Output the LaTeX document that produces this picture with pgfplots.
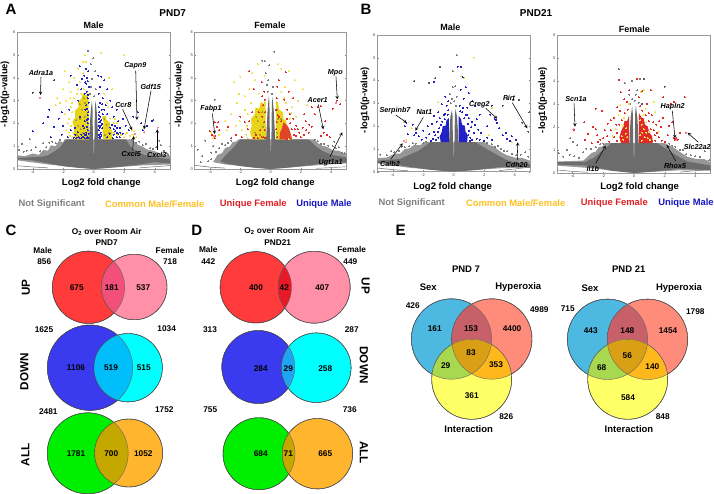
\documentclass[border=0pt]{standalone}
\usepackage{pgfplots}
\pgfplotsset{compat=1.18}
\usepackage{fontspec}
\setmainfont{Liberation Sans}
\definecolor{gmass}{HTML}{6C6C6C}
\definecolor{ghalo}{HTML}{979797}
\definecolor{gsp}{HTML}{7C7C7C}
\definecolor{yel}{HTML}{F0E040}
\definecolor{yeld}{HTML}{E8D418}
\definecolor{oli}{HTML}{A89C30}
\definecolor{blu}{HTML}{2222C4}
\definecolor{redd}{HTML}{E02A2A}
\definecolor{lgnd1}{HTML}{808080}
\definecolor{lgnd2}{HTML}{FFC022}
\definecolor{lgnd3}{HTML}{E01F24}
\definecolor{lgnd4}{HTML}{1818BE}
\definecolor{vred}{HTML}{FF3B3B}
\definecolor{vpink}{HTML}{FF90A8}
\definecolor{vrp}{HTML}{F2507A}
\definecolor{vrpd}{HTML}{E81828}
\definecolor{vblue}{HTML}{3A3AEE}
\definecolor{vcyan}{HTML}{00FFFF}
\definecolor{vbc}{HTML}{00BEFA}
\definecolor{vbcd}{HTML}{1EA4F0}
\definecolor{vgreen}{HTML}{00EE00}
\definecolor{vorange}{HTML}{FFB52E}
\definecolor{vgo}{HTML}{C4A800}
\definecolor{vsex}{HTML}{4DB8E0}
\definecolor{vhyp}{HTML}{FF8C7A}
\definecolor{vint}{HTML}{FFFF66}
\definecolor{vsh}{HTML}{C8606A}
\definecolor{vsi}{HTML}{A8D84F}
\definecolor{vhi}{HTML}{FFB81C}
\definecolor{vshi}{HTML}{D9A015}
\definecolor{pk}{HTML}{F08CB0}
\pgfplotsset{
  pdot/.style={only marks,mark=*,mark size=0.5pt,color=#1,mark options={draw=#1,fill=#1,line width=0pt}},
  mass/.style={fill=#1,draw=none,forget plot},
  volc/.style={scale only axis,xmin=-5,xmax=5,ymin=0,ymax=6,
    xtick={-4,-2,0,2,4},ytick={0,1,2,3,4,5,6},
    tick label style={font=\fontsize{4}{4}\selectfont\color{black!75}},
    xticklabel style={yshift=1.5pt},yticklabel style={xshift=1.5pt},
    axis line style={draw=black!40,line width=0.8pt},
    tick style={draw=black!50,line width=0.3pt},major tick length=1.2pt,
    clip=true,anchor=south west,
    /pgf/number format/assume math mode=true},
  overl/.style={at={(0pt,0pt)},anchor=south west,scale only axis,width=714pt,height=494pt,
  xmin=0,xmax=714,ymin=0,ymax=494,y dir=reverse,hide axis,clip=false},
}
\newcommand{\lab}[4][8.3]{\node[font=\fontsize{#1}{#1}\selectfont\bfseries,inner sep=0pt] at (axis cs:#2,#3) {#4};}
\newcommand{\clab}[5][9.4]{\node[text=#5,font=\fontsize{#1}{#1}\selectfont\bfseries,inner sep=0pt] at (axis cs:#2,#3) {#4};}
\newcommand{\rlab}[5][9.3]{\node[rotate=#5,font=\fontsize{#1}{#1}\selectfont\bfseries,inner sep=0pt] at (axis cs:#2,#3) {#4};}
\newcommand{\gene}[7]{\node[font=\fontsize{7.2}{7.2}\selectfont\bfseries\itshape,inner sep=0pt] at (axis cs:#1,#2) {#3};
  \draw[-stealth,line width=0.55pt] (axis cs:#4,#5) -- (axis cs:#6,#7);}
\newcommand{\vc}[4]{\addplot[only marks,mark=*,mark size=#3pt,mark options={draw=none,fill=#4}] coordinates {(#1,#2)};}
\newcommand{\ov}[7]{\path[path picture={\fill[#7] (axis cs:#4,#5) circle[radius=#6pt];}] (axis cs:#1,#2) circle[radius=#3pt];}
\newcommand{\vo}[3]{\draw[black!60,line width=0.4pt] (axis cs:#1,#2) circle[radius=#3pt];}
\newcommand{\twov}[7]{\ov{#1}{#2}{#3}{#4}{#5}{#6}{#7}\vo{#1}{#2}{#3}\vo{#4}{#5}{#6}}
\newcommand{\threev}[6]{%
 \ov{#1}{#2}{40.2}{#3}{#4}{40.2}{vsh}%
 \ov{#1}{#2}{40.2}{#5}{#6}{40}{vsi}%
 \ov{#3}{#4}{40.2}{#5}{#6}{40}{vhi}%
 \path[path picture={\path[path picture={\fill[vshi] (axis cs:#5,#6) circle[radius=40pt];}] (axis cs:#3,#4) circle[radius=40.2pt];}] (axis cs:#1,#2) circle[radius=40.2pt];
 \vo{#1}{#2}{40.2}\vo{#3}{#4}{40.2}\vo{#5}{#6}{40}}
\begin{document}
\begin{tikzpicture}[x=1pt,y=1pt]
\path[use as bounding box] (0,0) rectangle (714,494);

% ---------- A male
\begin{axis}[volc,at={(17.4pt,325pt)},width=152.6pt,height=136.7pt]
\addplot[mass=ghalo] coordinates {(-5,.6)(-4.5,.56)(-4,.68)(-3.6,.62)(-3.3,.84)(-3,.8)(-2.8,1.04)(-2.5,1.0)(-2.3,1.22)(-2,1.18)(-1.9,1.3)(2.4,1.3)(2.6,1.22)(2.9,1.06)(3.2,.98)(3.5,.86)(3.9,.8)(4.3,.7)(5,.58)(5,.2)(3,.15)(0,0)(-3,.2)(-5,.38)};
\addplot[mass=gmass] coordinates {(-5,.47)(-4,.52)(-3.4,.54)(-3,.6)(-2.6,.76)(-2.2,.95)(-1.8,1.3)(-.3,1.3)(-.28,1.6)(-.2,2.5)(-.12,3.0)(-.08,2.7)(-.05,1.3)(-.03,.7)(.03,.7)(.05,1.3)(.08,2.7)(.12,3.0)(.2,2.5)(.28,1.6)(.3,1.3)(2.1,1.3)(2.4,1.0)(2.8,.78)(3.3,.62)(4.2,.5)(5,.42)(5,.24)(4,.3)(3,.2)(2,.12)(1,.05)(0,0)(-1,.05)(-2,.12)(-3,.25)(-4,.38)(-5,.43)};
\addplot[gmass,line width=.5pt,forget plot] coordinates {(-5,.14)(-4,.09)(-3,.05)};
\addplot[gmass,line width=.5pt,forget plot] coordinates {(5,.15)(4,.1)(3,.05)};
\addplot[pdot=gsp] coordinates {(-4.7,1.1)(-4.4,.8)(-4.1,.82)(-3.8,.95)(-3.5,.78)(-3.3,1.12)(-3.1,.95)(-2.9,1.15)(-2.7,1.2)(-2.5,1.12)(-2.2,1.28)(-4.2,1.3)(-4.6,.75)(-4.9,.85)(2.5,1.28)(2.8,1.15)(3,1.2)(3.2,1.05)(3.4,1.1)(3.7,.92)(3.9,.88)(4.1,.95)(4.4,1.05)(4.6,.8)(4.8,.7)(4.3,1.25)(4.9,.62)(-.25,3.3)(-.15,3.6)(.15,3.5)(-.1,3.95)(.05,3.2)(-.35,5.18)(-.02,4.85)(-.2,4.6)(.1,4.3)};
\addplot[mass=yeld] coordinates {(-1.2,1.3)(-1.35,1.55)(-1.25,1.8)(-1.4,2.05)(-1.2,2.3)(-1.25,2.55)(-1,2.7)(-1.02,2.95)(-.8,3.1)(-.7,3.35)(-.5,3.2)(-.42,3.45)(-.33,3)(-.32,1.3)};
\addplot[mass=yeld] coordinates {(.62,1.3)(.58,1.7)(.65,2.05)(.55,2.3)(.78,2.35)(.85,2.15)(1.05,2.05)(1.1,1.8)(1.25,1.6)(1.18,1.3)};
\addplot[pdot=oli] coordinates {(-1.1,1.5)(-1,1.9)(-.9,2.2)(-.75,2.6)(-.7,1.6)(-.6,2.3)(-.55,2.9)(-.85,1.75)(-1.15,2.15)(-.9,2.85)(-.65,3.1)(.75,1.5)(.85,1.95)(1,1.6)(.7,2.2)};
\addplot[pdot=blu] coordinates {(-.9,4.5)(-.5,4.4)(-.35,4.3)(-.42,4)(-.55,3.8)(-.32,3.6)(-.45,3.4)(-.8,3.5)(-1.1,3.7)(-1.5,4.1)(-1,3)(-1.6,2.6)(-2.1,2.5)(-2.3,2.2)(-2,1.9)(-2.6,1.85)(-2.9,2.6)(-3,2.3)(-3.3,2)(-4,1.65)(-2.8,1.4)(-2.1,1.5)(-1.7,1.4)(-1.5,1.7)(-1.2,1.5)(-1,1.4)(-.8,1.5)(-.6,1.35)(-.5,1.6)(-.7,1.9)(-.4,2)(-.35,2.5)(-.5,2.8)(-.4,3.1)(-.6,3.3)(-.4,1.4)(-.9,1.35)(-.7,1.42)(-.55,1.5)(-.45,1.35)(-.38,1.7)(-.36,2.2)(-.34,2.9)(-1.2,1.8)(-.9,2.3)(-.6,2.1)(-.55,2.6)(-.42,1.85)(-.46,2.15)(-.38,2.35)(-.44,2.65)(-.36,3.25)(-.34,1.55)(-.36,1.35)(-.48,1.48)(-.62,1.55)(-.78,1.38)(-1.05,1.62)(-1.3,1.38)(-1.15,1.35)(-.62,1.78)(-.48,3.75)(-.38,3.85)(-.62,4.1)(-.75,3.95)
(.3,4.1)(.5,4.05)(.7,3.9)(.4,3.6)(.9,3.5)(.32,3.3)(.6,3.1)(.4,2.9)(.8,2.8)(1.1,3)(1.2,2.7)(1.5,2.6)(.35,2.5)(.6,2.4)(.35,2.2)(.45,1.9)(.32,1.7)(.5,1.5)(.35,1.4)(.9,2.4)(1.3,2.3)(1.6,2.1)(1.9,2.2)(2.1,1.9)(1.7,1.8)(1.5,1.6)(1.3,1.5)(1.1,1.8)(1.4,1.9)(.9,1.4)(1.7,1.4)(1.9,1.55)(2.6,2.3)(2.9,2.5)(3.2,1.7)(3.5,1.9)(3.8,2.1)(2.3,1.7)(3.1,2)(.4,1.35)(.45,1.6)(.38,1.8)(.42,2.05)(.5,2.15)(.34,2.7)(1.25,1.35)(1.5,1.4)(1.05,1.55)(.33,1.5)(.36,2.05)(.33,2.35)(.42,2.3)(.52,2.6)(.46,1.42)(.55,1.78)(.52,1.98)(.34,1.9)(.7,2.6)(.55,2.85)(1.4,1.65)(1.62,1.55)(1.3,1.75)(1.2,1.95)(1.55,1.8)(1.75,1.6)};
\addplot[pdot=yel] coordinates {(-.7,4.7)(-1,4.4)(-1.3,4)(-1.9,4.3)(-1.6,3.8)(-2,3.5)(-2.4,3.1)(-1.5,3.4)(-2.5,2.8)(-1.8,3)(-1.4,2.9)(.5,5.1)(1,4)(2,5)(-.5,4.7)(-.6,5)(1.2,3.5)(.7,3.3)(1.3,2)(2.2,1.6)(2.6,1.5)(2.8,1.4)(3.3,1.6)(1.8,1.5)(2,1.4)(-1.4,2.5)(-1.6,2.2)(-1.8,1.7)(-1.5,1.9)(-1.4,1.4)(-1.6,1.6)(-1.1,3.3)(-.9,3.8)(-.7,4.2)(-.65,3.5)(1.5,2)(1.55,1.5)(1.1,2.2)(.95,2.7)(2.5,1.7)(2.65,1.65)(-2.2,2.9)(-1.9,2.4)(-1.5,2.7)(-1.7,2)(-1.55,1.45)(-1.3,3.1)(-1.55,3.1)(-.8,3.3)(-1.0,3.5)(.9,2.9)(1.35,1.6)(1.4,2.2)(2.1,1.55)(2.4,1.45)};
\addplot[pdot=black!75] coordinates {(-4,3.35)(-2.6,3.9)(3.9,2.15)};
\addplot[pdot=pk] coordinates {(-3.5,3.12)(4.2,1.82)(2.7,1.55)(3.3,1.62)};
\end{axis}

% ---------- A female
\begin{axis}[volc,at={(194.8pt,325pt)},width=151.7pt,height=136.7pt]
\addplot[mass=ghalo] coordinates {(-3.8,.3)(-3.5,.62)(-3.2,.7)(-3,.92)(-2.7,.98)(-2.5,1.18)(-2.3,1.2)(-2.1,1.3)(2.9,1.3)(3.1,1.14)(3.4,1.02)(3.7,.98)(4.1,.82)(4.5,.8)(5,.62)(5,.25)(3,.16)(0,0)(-3,.2)};
\addplot[mass=gmass] coordinates {(-3.3,.34)(-3,.58)(-2.5,.9)(-2,1.3)(-.3,1.3)(-.27,1.7)(-.2,2.6)(-.12,3.2)(-.08,2.9)(-.05,1.3)(-.03,.8)(.03,.8)(.05,1.3)(.08,2.9)(.12,3.15)(.2,2.6)(.27,1.7)(.3,1.3)(2.5,1.3)(3,.98)(3.4,.8)(4,.62)(5,.5)(5,.28)(4,.3)(3,.2)(2,.12)(1,.05)(0,0)(-1,.05)(-2,.13)(-3,.25)};
\addplot[gmass,line width=.55pt,forget plot] coordinates {(-5,.16)(-4,.08)(-3,.04)};
\addplot[gmass,line width=.4pt,forget plot] coordinates {(5,.1)(4,.06)(3,.03)};
\addplot[pdot=gsp] coordinates {(-4.8,.85)(-4.5,.55)(-4.3,1.25)(-4.1,.35)(-3.9,.72)(-3.8,1.0)(-3.6,.75)(-3.4,.9)(-3.2,1.1)(-3,1.05)(-2.8,1.15)(-2.6,1.25)(-4.6,.3)(-3.9,.42)(2.9,1.28)(3.1,1.22)(3.3,1.1)(3.5,1.1)(3.8,1.02)(4.1,1.0)(4.3,.9)(4.5,.95)(4.7,.72)(4.9,.68)(4.2,1.2)(-.2,3.4)(-.25,3.7)(-.15,3.9)(-.32,4.2)(-.4,4.72)(-.55,4.76)(.25,5.15)(-.1,4.55)(.1,3.3)(.15,3.6)(-3.7,3.05)};
\addplot[mass=yeld] coordinates {(-1.2,1.3)(-1.35,1.6)(-1.25,1.9)(-1.3,2.2)(-1.05,2.4)(-1,2.7)(-.75,2.65)(-.65,2.95)(-.45,2.85)(-.33,3.1)(-.32,1.3)};
\addplot[mass=yeld] coordinates {(.35,1.3)(.34,3)(.5,2.9)(.55,2.6)(.8,2.5)(.85,2.2)(1.05,2.1)(1,1.7)(1.1,1.3)};
\addplot[mass=redd!85!yeld] coordinates {(.58,1.3)(.62,1.6)(.72,1.75)(.85,2.05)(1.05,1.95)(1.2,1.8)(1.3,1.6)(1.42,1.3)};
\addplot[pdot=oli] coordinates {(-1,1.6)(-.85,2.1)(-.7,1.5)(-.55,2.5)(-.5,1.85)(-.95,2.3)(.45,1.6)(.5,2.2)(.42,2.6)(.7,2.2)};
\addplot[pdot=yel] coordinates {(-2.4,3.8)(-2,4.05)(-1.7,3.2)(-2.2,2.9)(-2.6,2.4)(-1.4,3.5)(-1.2,4.2)(-1,3.9)(-.8,3.3)(-1.7,2.6)(-1.3,2.9)(-2.3,1.9)(-1.9,1.7)(-1.6,1.5)(-2.9,1.7)(-3.4,1.5)(-.85,4.6)(.7,3.4)(1.2,4.3)(1.6,3.9)(.9,3.1)(1.4,2.7)(1.8,3)(2.4,2.8)(1.7,2.3)(.95,3.6)(.5,4.6)(.7,4.4)(-.4,4.1)(2.1,3.5)(-3.9,1.6)(-3.8,1.35)(-1.5,1.35)(-3,2.1)(-1.5,2.4)(-1.55,1.9)(-2.05,2.1)(1.25,2.2)(1.35,2.45)(1.2,1.3)(-2.1,3.3)(1,2.9)};
\addplot[pdot=redd] coordinates {(-1.4,4.3)(-1.1,3.5)(-.6,3.8)(-.55,3.2)(-1.2,2.5)(-1.4,2.1)(-1.5,1.75)(-1.7,2.05)(-2,2.3)(-2.3,1.5)(-2.6,1.35)(-2.8,1.85)(-1.9,1.4)(-.8,2.5)(-.55,2.3)(-.7,1.7)(-.95,1.5)(-.45,1.4)(-.5,2.8)(-.42,3.4)(-.38,1.7)(-.42,2.05)(-.36,2.5)(-.6,1.4)(-.85,1.35)(-1.1,1.38)(-.4,3.05)(-.36,1.35)
(.4,3.1)(.35,2.6)(.55,2.3)(.7,2.1)(.45,3.6)(.9,3.05)(1.1,2.6)(1.25,2.4)(1.5,2.2)(1.7,1.9)(1.9,1.6)(2.1,1.8)(2.3,2.1)(2.5,1.6)(2.7,1.85)(2,1.4)(1.65,1.45)(2.9,2.4)(3.1,2.7)(3.3,2.75)(2.7,2.7)(2.2,2.4)(1.5,3.1)(1.2,3.4)(3.6,2.1)(3.5,1.6)(3.7,1.5)(3.3,1.45)(3.9,1.4)(4.1,2.65)(4.35,3.0)(4.6,2.85)(1.0,4.25)(.55,3.9)(1.1,2.2)(1.3,2)(1.4,1.75)(1.55,1.5)(1.8,1.75)(2.2,1.5)(2.35,1.7)(2.55,1.95)(1.6,1.75)(.42,1.4)(.38,1.75)(.4,2.05)(.48,2.35)(1.05,1.3)
(-3.7,2.05)(-3.55,1.85)(-3.45,2.05)(-3.65,1.45)(-3.7,1.35)(-4,1.65)(-3.85,1.5)(-3.4,1.7)};
\addplot[pdot=pk] coordinates {(-3.75,1.45)(4.3,2.9)};
\end{axis}

% ---------- B male
\begin{axis}[volc,at={(377.4pt,322.3pt)},width=152.6pt,height=136.7pt]
\addplot[mass=ghalo] coordinates {(-5,.6)(-4.4,.62)(-3.9,.78)(-3.5,.8)(-3.2,1.0)(-2.9,1.02)(-2.6,1.18)(-2.2,1.16)(-1.9,1.3)(2,1.3)(2.3,1.18)(2.6,1.12)(2.9,.96)(3.2,.82)(3.5,.72)(4,.62)(4.5,.6)(5,.48)(5,.18)(3,.15)(0,0)(-3,.18)(-5,.36)};
\addplot[mass=gmass] coordinates {(-5,.48)(-3.5,.56)(-3,.72)(-2.3,.92)(-1.5,1.3)(-.3,1.3)(-.28,1.7)(-.22,2.4)(-.12,2.7)(-.08,2.5)(-.05,1.3)(-.03,.7)(.03,.7)(.05,1.3)(.08,2.5)(.12,2.75)(.22,2.4)(.28,1.7)(.3,1.3)(1.4,1.3)(2.2,.98)(3,.68)(3.5,.5)(4,.42)(5,.32)(5,.18)(4,.25)(3,.2)(1.5,.08)(0,0)(-1.5,.08)(-3,.22)(-4,.35)(-5,.4)};
\addplot[gmass,line width=.5pt,forget plot] coordinates {(-5,.16)(-4,.09)(-3,.04)};
\addplot[gmass,line width=.5pt,forget plot] coordinates {(5,.2)(4,.12)(3,.05)};
\addplot[pdot=gsp] coordinates {(-4.8,.75)(-4.4,.72)(-4.1,.9)(-3.9,.86)(-3.6,.92)(-3.4,1.1)(-3.2,1.08)(-2.9,1.12)(-2.7,1.24)(-2.5,1.22)(-2,1.25)(-1.8,1.32)(2,1.34)(2.2,1.26)(2.5,1.2)(2.7,1.1)(2.9,1.14)(3.1,1.0)(3.3,.92)(3.5,.9)(3.8,.78)(4.1,.72)(4.4,.75)(4.7,.85)(4.9,.65)(-.2,3.0)(-.25,3.4)(-.05,3.7)(.1,3.75)(.2,3.3)(.05,3.1)(.15,2.9)(-.1,3.2)(.2,5.12)(-.05,4.4)};
\addplot[mass=blu] coordinates {(-.85,1.3)(-.92,1.55)(-.78,1.75)(-.72,2)(-.52,2.02)(-.48,2.25)(-.32,2.35)(-.32,1.3)};
\addplot[mass=blu] coordinates {(.32,1.3)(.32,2.45)(.48,2.3)(.55,2.05)(.72,2.02)(.78,1.75)(.92,1.6)(.88,1.3)};
\addplot[pdot=blu] coordinates {(-1.3,3.95)(-.55,3.3)(-.8,2.95)(-.35,3.1)(-.45,2.9)(-1,2.6)(-1.3,2.45)(-.65,2.5)(-1.1,2.2)(-1.4,2.1)(-1.7,2.0)(-2,1.8)(-1.6,1.65)(-1.3,1.75)(-1,1.5)(-1.8,1.5)(-2.1,1.4)(-2.3,1.55)(-1.5,1.35)(-.95,1.9)(-2.5,1.7)(-2.6,1.6)(-2.7,2.05)(-.9,2.35)(-.6,2.3)(-3.2,2)(-3.0,1.65)(-3.1,2.15)(-1.15,1.4)(-1.2,1.6)(-1.05,1.75)(-.85,2.05)(-.75,2.2)(-.55,2.55)(-.4,2.5)(-.35,2.7)(-1.35,1.45)
(.5,4.6)(.25,4.6)(.6,4.15)(.8,3.7)(.45,3.6)(1.0,3.45)(.65,3.2)(.4,2.9)(.9,2.8)(1.2,3.1)(1.4,2.9)(.55,2.6)(.8,2.5)(1,2.35)(1.2,2.2)(.95,2.1)(1.4,2.05)(1.6,1.85)(1.8,1.7)(1.3,1.7)(1.1,1.5)(1.5,1.45)(1.7,1.4)(2,1.35)(2.2,1.5)(2.5,1.4)(2.7,2.3)(2.8,2.25)(2.85,2.15)(2.4,2.5)(2.2,2)(3.0,1.9)(3.2,1.6)(3.4,1.7)(3.5,1.45)(3.8,1.55)(3.7,1.35)(4.1,1.4)(1.7,2.5)(2.5,2.9)(1.5,2.3)(1,1.8)(1.15,1.95)(1.05,1.35)(.95,1.6)(1.2,1.4)(.7,2.35)(.9,2.5)(.42,2.65)(.6,2.8)};
\addplot[pdot=black!65] coordinates {(-2.6,3.98)(-1.6,3.9)(-1.2,4.1)(-.9,4.6)(3.2,2.9)(3.5,3.2)(3.9,3.15)(4.3,3.15)(4.9,1.75)(4.5,2.15)(4.95,2.6)};
\addplot[pdot=yel] coordinates {(1.3,5.0)(.5,4.2)(.7,4.1)(-1.0,3.05)(2.5,2.8)(2.3,1.6)(3.8,1.3)(-2.75,1.9)(-3.1,1.4)};
\addplot[pdot=pk] coordinates {(-3.1,1.3)(-3.25,1.35)};
\end{axis}

% ---------- B female
\begin{axis}[volc,at={(557.3pt,321pt)},width=153.4pt,height=138pt]
\addplot[mass=ghalo] coordinates {(-5,.5)(-3.3,.54)(-3,.72)(-2.75,.88)(-2.5,.92)(-2.3,1.12)(-2.05,1.16)(-1.9,1.3)(2,1.3)(2.3,1.2)(2.6,1.1)(2.9,.96)(3.2,.82)(3.5,.7)(4,.62)(4.6,.6)(5,.46)(5,.1)(3,.12)(0,0)(-3,.22)(-5,.32)};
\addplot[mass=gmass] coordinates {(-5,.47)(-3.2,.48)(-2.6,.66)(-2.2,.9)(-1.7,1.15)(-1.5,1.3)(-.3,1.3)(-.28,1.7)(-.22,2.4)(-.12,2.9)(-.08,2.6)(-.05,1.3)(-.03,.7)(.03,.7)(.05,1.3)(.08,2.6)(.12,2.95)(.22,2.4)(.28,1.7)(.3,1.3)(1.5,1.3)(2.2,1.0)(2.8,.75)(3.5,.5)(4.2,.42)(5,.32)(5,.12)(3,.18)(1.5,.08)(0,0)(-1.5,.1)(-3,.32)(-5,.37)};
\addplot[gmass,line width=.5pt,forget plot] coordinates {(-5,.13)(-4,.07)(-3,.03)};
\addplot[gmass,line width=.5pt,forget plot] coordinates {(5,.17)(4,.1)(3,.04)};
\addplot[pdot=gsp] coordinates {(-4.9,.85)(-4.6,.7)(-4.4,1.0)(-4.2,.8)(-3.9,.72)(-3.7,1.2)(-3.6,.66)(-3.3,.9)(-3.1,1.05)(-2.8,1.05)(-2.5,1.12)(-2.2,1.25)(-2,1.28)(2.3,1.28)(2.5,1.18)(2.7,1.15)(3,1.02)(3.2,1.0)(3.4,.82)(3.7,.78)(4,.72)(4.3,.7)(4.6,.95)(4.9,.55)(-.25,3)(-.1,3.2)(.1,3.4)(.2,3.6)(.05,3.15)(.3,3.05)(-.3,3.4)(.4,4.1)(-.15,4)(-.6,3.9)(-3.95,1.35)(-4.15,1.5)};
\addplot[mass=redd] coordinates {(-.85,1.3)(-.95,1.55)(-.85,1.8)(-.72,2.0)(-.62,2.25)(-.45,2.25)(-.32,2.5)(-.32,1.3)};
\addplot[mass=redd] coordinates {(.32,1.3)(.32,2.6)(.5,2.4)(.62,2.4)(.72,2.1)(.9,2.02)(1,1.75)(1.18,1.6)(1.22,1.3)};
\addplot[pdot=yel] coordinates {(-.9,2.95)(-1,2.5)(-.65,2.4)(-.7,2.05)(-.55,1.7)(-1.2,1.9)(-.35,3)(.45,3.5)(.65,3.6)(.6,2.5)(.8,2.2)(.95,1.8)(.65,1.9)(.4,1.65)(.9,1.5)(.5,1.4)(-1.4,1.6)(-.7,1.45)(1.4,2.65)(1.6,1.8)(1.3,3.1)(.75,2.8)(.55,1.75)(.7,1.55)(.8,1.75)(.5,2.1)(.42,2.3)(-.45,1.55)(-.5,1.95)(-.8,1.6)(1.05,1.45)};
\addplot[pdot=redd] coordinates {(-1.0,4.05)(-.3,3.6)(.3,3.3)(.55,3.55)(1.1,3.6)(.2,4.1)(-.45,3.1)(-.65,3.2)(-.85,3.5)(-.9,2.7)(-1.1,2.85)(-1.3,2.4)(-1.5,2.3)(-1.7,2.15)(-1.9,1.85)(-1.5,1.85)(-1.75,1.6)(-2,1.5)(-2.2,1.45)(-2.4,1.65)(-2.5,1.9)(-2.7,2)(-3,1.7)(-3.2,1.45)(-2.75,1.3)(-2.35,1.35)(-1.1,1.4)(-1.3,1.55)(-1.6,1.35)(-2.1,2.7)(-2.5,2.8)(-3.25,2.2)(-3.9,1.85)(-1.1,1.75)(-.95,2.1)(-.8,2.3)(-.6,2.6)(-.42,2.75)(-1.15,2.1)
(.4,2.9)(.85,3)(.95,2.6)(1.15,2.5)(1.25,2.2)(1.45,2.1)(1.3,1.85)(1.6,1.55)(1.75,2)(1.9,2.4)(1.8,1.4)(2,1.35)(2.2,1.65)(2.3,2.05)(2.6,1.5)(2.65,1.45)(2.75,1.5)(2.85,1.45)(2.5,2.2)(3,1.75)(3.4,1.75)(3.3,3.3)(2.6,3.1)(1.9,3.3)(2.4,3.0)(1.4,1.4)(1.2,1.4)(1.35,1.65)(1.1,1.9)(.95,2.25)(.75,2.5)(.55,2.7)(1.5,1.75)(1.65,2.25)};
\addplot[pdot=black!65] coordinates {(-1.0,4.5)(.65,4.1)(.55,3.0)(2.0,3.75)};
\addplot[pdot=pk] coordinates {(3.4,1.72)(-3.95,1.9)(2.75,1.42)};
\end{axis}

% ---------- Venn circles: centre and radius in reference pixels
\begin{axis}[overl]
\vc{88.5}{287.3}{36.2}{vred}\vc{134.2}{287}{32.8}{vpink}
\vc{90}{367.7}{42.7}{vblue}\vc{128.2}{367.7}{34.2}{vcyan}
\vc{87.7}{453.3}{40.5}{vgreen}\vc{128.7}{453}{34}{vorange}
\vc{255.8}{287.3}{35.7}{vred}\vc{314.2}{287.2}{36}{vpink}
\vc{258.3}{367}{36.5}{vblue}\vc{316.3}{367.7}{34.8}{vcyan}
\vc{259}{453.7}{36}{vgreen}\vc{317.5}{453.7}{35.2}{vorange}
\vc{451.5}{339}{40.2}{vsex}\vc{491.8}{339}{40.2}{vhyp}\vc{471.7}{379.3}{40}{vint}
\vc{607.5}{339.3}{40.2}{vsex}\vc{647.5}{339.3}{40.2}{vhyp}\vc{627.7}{379.3}{40}{vint}
\end{axis}

% ---------- overlaps and all text, in reference pixels
\begin{axis}[overl]
% Venn C
\twov{88.5}{287.3}{36.2}{134.2}{287}{32.8}{vrp}
\twov{90}{367.7}{42.7}{128.2}{367.7}{34.2}{vbc}
\twov{87.7}{453.3}{40.5}{128.7}{453}{34}{vgo}
% Venn D
\twov{255.8}{287.3}{35.7}{314.2}{287.2}{36}{vrpd}
\twov{258.3}{367}{36.5}{316.3}{367.7}{34.8}{vbcd}
\twov{259}{453.7}{36}{317.5}{453.7}{35.2}{vgo}
% Venn E
\threev{451.5}{339}{491.8}{339}{471.7}{379.3}
\threev{607.5}{339.3}{647.5}{339.3}{627.7}{379.3}
% panel letters
\lab[15]{11}{9}{A}\lab[15]{366}{9}{B}\lab[15]{11}{230}{C}\lab[15]{196.7}{230}{D}\lab[15]{400.7}{230}{E}
% titles
\lab[10]{172.7}{13}{PND7}\lab[10]{536}{12.7}{PND21}
\lab[9]{93.7}{25}{Male}\lab[9]{270}{25.3}{Female}\lab[9]{450.3}{27}{Male}\lab[9]{634.3}{29.7}{Female}
\lab[9.5]{101.3}{182.7}{Log2 fold change}\lab[9.5]{275.3}{182.7}{Log2 fold change}
\lab[9.5]{452.7}{187}{Log2 fold change}\lab[9.5]{639.7}{187}{Log2 fold change}
\rlab{5}{94}{-log10(p-value)}{90}\rlab{179}{94}{-log10(p-value)}{90}
\rlab{365}{100}{-log10(p-value)}{90}\rlab{542.7}{100}{-log10(p-value)}{90}
% legends
\clab{51.7}{204.3}{Not Significant}{lgnd1}\clab{154.7}{204.3}{Common Male/Female}{lgnd2}
\clab{253.3}{204.3}{Unique Female}{lgnd3}\clab{324}{204.3}{Unique Male}{lgnd4}
\clab{411.7}{203}{Not Significant}{lgnd1}\clab{515.7}{203}{Common Male/Female}{lgnd2}
\clab{614.3}{203}{Unique Female}{lgnd3}\clab{686}{203}{Unique Male}{lgnd4}
% genes, A male
\gene{41}{72.7}{Adra1a}{41}{77}{40.5}{95}
\gene{135.3}{66}{Capn9}{135.7}{70.7}{137}{120}
\gene{150.7}{86.7}{Gdf15}{151}{90.7}{144}{129.3}
\gene{123.3}{105.3}{Ccr8}{122.7}{109.3}{132}{130}
\gene{131.3}{154}{Cxcl5}{132.7}{150}{133.7}{136}
\gene{156.7}{154.7}{Cxcl3}{157.3}{150}{157.3}{129.3}
% A female
\gene{211}{108.7}{Fabp1}{212.3}{113.3}{214.7}{134}
\gene{335.3}{72.7}{Mpo}{336}{76.7}{337.3}{99.3}
\gene{317.7}{100}{Acer1}{318.3}{104.3}{323.3}{129.3}
\gene{330.7}{162.3}{Ugt1a1}{330}{156.7}{342.3}{132.3}
% B male
\gene{395}{111}{Serpinb7}{395.7}{115}{406.7}{122.7}
\gene{424.3}{112.3}{Nat1}{423.3}{117.3}{415.3}{130.7}
\gene{479.3}{104.7}{Creg2}{485.7}{108.3}{497.3}{118.7}
\gene{509}{98}{Pirt}{512.3}{102.7}{527.3}{128.3}
\gene{390}{164}{Calb2}{390.7}{159.3}{402.7}{143.3}
\gene{516.7}{164.7}{Cdh20}{517.3}{160}{517.7}{142.3}
% B female
\gene{576}{99.3}{Scn1a}{574}{103.3}{575}{126.7}
\gene{672.7}{106.3}{Hapln2}{672.3}{110.7}{675}{138.3}
\gene{697.3}{146.7}{Slc22a2}{698.3}{142.3}{687.7}{132.7}
\gene{675}{165.7}{Rhox5}{675.7}{161}{666.7}{145}
\gene{592.7}{169}{Il1b}{595.7}{163.3}{605.7}{145.7}
% C text
\lab[8.3]{106.7}{231.7}{O\textsubscript{2} over Room Air}\lab[8.3]{106.7}{242.7}{PND7}
\lab{42.7}{250.3}{Male}\lab{44.3}{261.7}{856}\lab{170}{250.3}{Female}\lab{170}{261.7}{718}
\rlab[11.7]{26}{287.7}{UP}{90}\rlab[11.7]{24.3}{371.7}{DOWN}{90}\rlab[11.7]{25.3}{455}{ALL}{90}
\lab{44}{329.7}{1625}\lab{166.7}{329}{1034}\lab{48.3}{411.7}{2481}\lab{164.3}{409.3}{1752}
\lab{76.7}{287.7}{675}\lab{111.7}{287.7}{181}\lab{143.3}{287.7}{537}
\lab{76}{368}{1106}\lab{111}{368}{519}\lab{143.7}{368}{515}
\lab{76}{454}{1781}\lab{111.3}{454}{700}\lab{143.3}{454}{1052}
% D text
\lab[8.3]{279.3}{231}{O\textsubscript{2} over Room Air}\lab[8.3]{277.7}{242.3}{PND21}
\lab{208.3}{249.7}{Male}\lab{208.3}{261.7}{442}\lab{351.7}{249.7}{Female}\lab{350.4}{261.7}{449}
\rlab[11.7]{365.7}{286}{UP}{-90}\rlab[11.7]{364}{365}{DOWN}{-90}\rlab[11.7]{364}{452.7}{ALL}{-90}
\lab{210}{329.3}{313}\lab{351.7}{329.3}{287}\lab{210.3}{410}{755}\lab{349.8}{409.3}{736}
\lab{256}{287.7}{400}\lab{284.3}{287.7}{42}\lab{322.3}{287.7}{407}
\lab{260.7}{368.3}{284}\lab{288.3}{368.3}{29}\lab{325.3}{368.3}{258}
\lab{260.7}{454}{684}\lab{288.3}{454}{71}\lab{325.3}{454}{665}
% E text
\lab[9.5]{466}{269}{PND 7}\lab[9.5]{628.7}{269}{PND 21}
\lab[9.5]{428.3}{287.3}{Sex}\lab[9.5]{518.3}{287.3}{Hyperoxia}\lab[9.5]{590}{288}{Sex}\lab[9.5]{679}{287.7}{Hyperoxia}
\lab{412.7}{306}{426}\lab{539.3}{309.3}{4989}\lab{567.7}{308.7}{715}\lab{695.3}{311.3}{1798}
\lab{434.7}{328.7}{161}\lab{471}{328.7}{153}\lab{512}{328.7}{4400}\lab{471}{352.3}{83}\lab{445.7}{365.3}{29}\lab{496}{364.7}{353}\lab{471.7}{395.3}{361}\lab{506.3}{417}{826}
\lab[9.5]{468.7}{429.3}{Interaction}
\lab{590.7}{331}{443}\lab{627.3}{331}{148}\lab{668}{331}{1454}\lab{627.3}{355.3}{56}\lab{601.7}{367.7}{68}\lab{652.3}{367}{140}\lab{628}{397.7}{584}\lab{662.7}{417}{848}
\lab[9.5]{629}{429.3}{Interaction}
\end{axis}
\end{tikzpicture}
\end{document}
